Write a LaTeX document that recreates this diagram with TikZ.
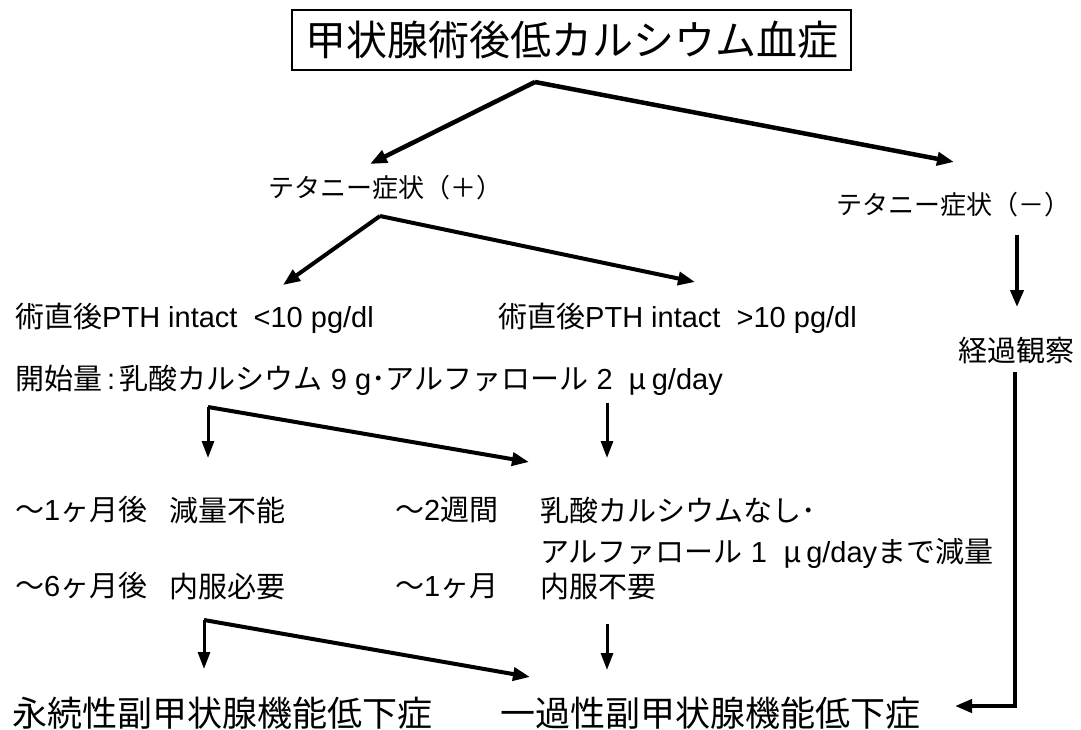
\documentclass[tikz,border=0pt]{standalone}
\usepackage{fontspec}
\setmainfont{Liberation Sans}
\newfontfamily\jp{Noto Sans CJK JP}
\newcommand\J[1]{{\jp #1}}
\usetikzlibrary{arrows.meta}
\begin{document}
\begin{tikzpicture}[x=1pt,y=-1pt,
  lbl/.style={anchor=west, inner sep=0pt},
  tip/.style={-{Triangle[length=17pt,width=13pt]}},
  big/.style={line width=4.5pt, tip},
  mid/.style={line width=4pt, tip},
  sm/.style={line width=3pt, -{Triangle[length=17pt,width=12pt]}},
  fA/.style={font=\fontsize{41}{45}\selectfont},
  fB/.style={font=\fontsize{26}{30}\selectfont},
  fC/.style={font=\fontsize{29}{34}\selectfont},
  fD/.style={font=\fontsize{35}{40}\selectfont}]
\useasboundingbox (0,0) rectangle (1081,729);
\fill[white] (0,0) rectangle (1081,729);

\node[draw, line width=1.5pt, minimum width=559pt, minimum height=60pt, inner sep=0pt, fA] (title) at (571.5,40) {\J{甲状腺術後低カルシウム血症}};

\node[lbl, fB] (tp) at (268,188) {\J{テタニー症状（＋）}};
\node[lbl, fB] (tm) at (836,205) {\J{テタニー症状（－）}};

\node[lbl, fC] (pthlo) at (15,318) {\J{術直後}PTH intact\ \ <10 pg/dl};
\node[lbl, fC] (pthhi) at (498,318) {\J{術直後}PTH intact\ \ >10 pg/dl};
\node[lbl, fC] (start) at (15,380) {\J{開始量}\,:\,\J{乳酸カルシウム} 9 g\J{･アルファロール} 2\ \ \J{μ}\,g/day};
\node[lbl, fC] (obs) at (958,350) {\J{経過観察}};

\node[lbl, fC] (m1a) at (15,510) {\J{～}1\J{ヶ月後}};
\node[lbl, fC] (m1b) at (169,510) {\J{減量不能}};
\node[lbl, fC] (w2a) at (395,510) {\J{～}2\J{週間}};
\node[lbl, fC] (w2b) at (540,510) {\J{乳酸カルシウムなし･}};
\node[lbl, fC] (w2c) at (540,553) {\J{アルファロール} 1\ \ \J{μ}\,g/day\J{まで減量}};
\node[lbl, fC] (m6a) at (15,586) {\J{～}6\J{ヶ月後}};
\node[lbl, fC] (m6b) at (169,586) {\J{内服必要}};
\node[lbl, fC] (m1c) at (395,586) {\J{～}1\J{ヶ月}};
\node[lbl, fC] (m1d) at (540,586) {\J{内服不要}};

\node[lbl, fD] (perm) at (12,713) {\J{永続性副甲状腺機能低下症}};
\node[lbl, fD] (trans) at (500,713) {\J{一過性副甲状腺機能低下症}};

% coordinates
\coordinate (ap1) at (535,82);
\coordinate (t1) at (370,164);
\coordinate (t2) at (954,162);
\coordinate (ap2) at (380,216);
\coordinate (t3) at (283,285);
\coordinate (t4) at (695,282);
\coordinate (b1) at (208,407);
\coordinate (t5) at (208,458);
\coordinate (t6) at (529,462);
\coordinate (s1) at (607,403);
\coordinate (t7) at (607,458);
\coordinate (b2) at (204,620);
\coordinate (t8) at (204,669);
\coordinate (t9) at (530,677);
\coordinate (s2) at (607,624);
\coordinate (t10) at (607,670);
\coordinate (r1) at (1017,235);
\coordinate (t11) at (1017,307);
\coordinate (r2) at (1015,372);
\coordinate (r3) at (1015,706);
\coordinate (t12) at (955,706);

\draw[big] (ap1) -- (t1);
\draw[big] (ap1) -- (t2);
\draw[mid] (ap2) -- (t3);
\draw[mid] (ap2) -- (t4);
\draw[sm] (b1) -- (t5);
\draw[mid] (b1) -- (t6);
\draw[sm] (s1) -- (t7);
\draw[sm] (b2) -- (t8);
\draw[mid] (b2) -- (t9);
\draw[sm] (s2) -- (t10);
\draw[mid] (r1) -- (t11);
\draw[mid] (r2) -- (r3) -- (t12);
\end{tikzpicture}
\end{document}
